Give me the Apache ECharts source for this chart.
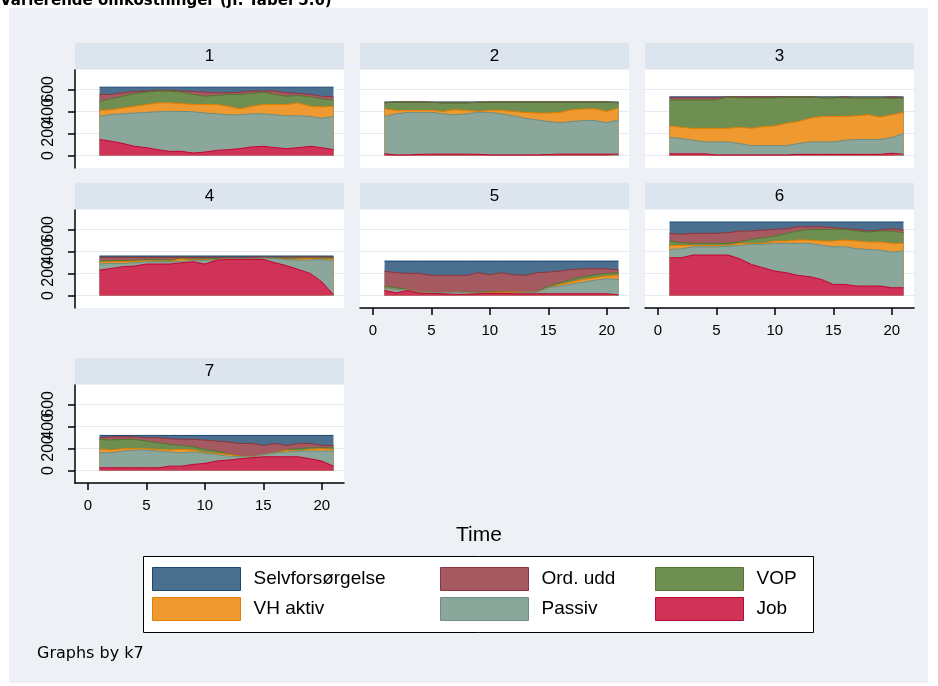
<!DOCTYPE html>
<html>
<head>
<meta charset="utf-8">
<script src="https://cdn.jsdelivr.net/npm/echarts@6/dist/echarts.min.js"></script>
<style>
html, body { margin: 0; padding: 0; background: #fff; }
#container { width: 938px; height: 686px; }
</style>
</head>
<body>
<div id="container"></div>
<script>
var time = [1, 2, 3, 4, 5, 6, 7, 8, 9, 10, 11, 12, 13, 14, 15, 16, 17, 18, 19, 20, 21];
var xTicks = [0, 5, 10, 15, 20];
var yTicks = [0, 200, 400, 600];
// the y labels overlap in the original, so they go on two stacked axes
var yLabelsA = [0, 400];
var yLabelsB = [200, 600];
var panelNames = ['1', '2', '3', '4', '5', '6', '7'];
// bottom of the stack first
var seriesNames = ['Job', 'Passiv', 'VH aktiv', 'VOP', 'Ord. udd', 'Selvforsørgelse'];

var job1 = [145, 129, 108, 83, 71, 52, 37, 37, 22, 31, 46, 52, 62, 77, 83, 71, 62, 71, 83, 71, 52];
var passiv1 = [209, 243, 270, 302, 320, 345, 363, 363, 375, 354, 332, 317, 307, 301, 295, 298, 298, 289, 271, 267, 302];
var vhAktiv1 = [55, 43, 53, 61, 71, 80, 77, 71, 65, 77, 84, 77, 53, 68, 84, 93, 102, 117, 92, 102, 92];
var vop1 = [83, 99, 107, 117, 113, 108, 108, 104, 92, 76, 83, 108, 132, 117, 113, 92, 76, 68, 86, 74, 55];
var ordUdd1 = [62, 40, 31, 18, 10, 6, 6, 10, 27, 37, 24, 15, 21, 22, 10, 31, 31, 18, 22, 24, 31];
var selv1 = [66, 66, 51, 39, 35, 29, 29, 35, 39, 45, 51, 51, 45, 35, 35, 35, 51, 57, 66, 82, 88];

var job2 = [15, 5, 5, 10, 12, 12, 12, 12, 10, 5, 5, 5, 5, 5, 8, 12, 12, 12, 12, 12, 12];
var passiv2 = [339, 373, 386, 381, 379, 366, 357, 366, 381, 386, 373, 355, 333, 318, 300, 286, 296, 305, 305, 286, 311];
var vhAktiv2 = [68, 31, 18, 18, 18, 22, 46, 31, 9, 18, 31, 40, 53, 62, 77, 93, 107, 105, 105, 102, 108];
var vop2 = [56, 77, 77, 77, 74, 78, 63, 69, 83, 77, 77, 86, 95, 101, 101, 95, 71, 64, 64, 86, 47];
var ordUdd2 = [0, 0, 0, 0, 0, 0, 0, 0, 0, 0, 0, 0, 0, 0, 0, 0, 0, 0, 0, 0, 0];
var selv2 = [8, 0, 0, 0, 3, 8, 8, 8, 3, 0, 0, 0, 0, 0, 0, 0, 0, 0, 0, 0, 8];

var job3 = [15, 15, 15, 15, 5, 5, 5, 5, 5, 5, 5, 10, 10, 10, 10, 10, 10, 10, 10, 20, 10];
var passiv3 = [148, 139, 123, 108, 118, 118, 103, 84, 84, 84, 84, 98, 113, 113, 113, 128, 135, 135, 135, 143, 190];
var vhAktiv3 = [105, 101, 108, 123, 123, 123, 147, 157, 173, 179, 203, 200, 215, 231, 231, 216, 215, 224, 203, 206, 191];
var vop3 = [236, 249, 258, 258, 258, 286, 267, 276, 260, 254, 240, 224, 194, 170, 170, 168, 164, 155, 176, 148, 133];
var ordUdd3 = [20, 20, 20, 20, 20, 0, 10, 10, 10, 10, 0, 0, 0, 0, 0, 10, 0, 0, 0, 15, 0];
var selv3 = [8, 8, 8, 8, 8, 0, 0, 0, 0, 0, 0, 0, 0, 8, 8, 0, 8, 8, 8, 0, 8];

var job4 = [230, 245, 261, 267, 285, 285, 285, 297, 306, 285, 321, 327, 327, 327, 327, 297, 270, 236, 200, 124, 5];
var passiv4 = [56, 46, 30, 30, 20, 20, 20, 14, 10, 31, 5, 6, 8, 6, 11, 39, 55, 84, 123, 201, 311];
var vhAktiv4 = [15, 15, 15, 12, 9, 6, 6, 20, 5, 5, 0, 0, 0, 0, 0, 0, 3, 10, 12, 5, 15];
var vop4 = [15, 10, 10, 12, 12, 15, 10, 5, 10, 10, 10, 5, 0, 0, 0, 5, 10, 10, 5, 10, 10];
var ordUdd4 = [30, 30, 30, 25, 20, 20, 25, 10, 15, 15, 10, 5, 8, 15, 10, 5, 10, 10, 10, 10, 5];
var selv4 = [12, 12, 12, 12, 12, 12, 12, 12, 12, 12, 12, 15, 15, 10, 10, 12, 10, 8, 8, 8, 12];

var job5 = [45, 24, 45, 20, 18, 15, 10, 10, 15, 18, 18, 15, 15, 15, 15, 15, 15, 15, 15, 15, 5];
var passiv5 = [25, 31, 5, 10, 10, 10, 20, 15, 5, 0, 0, 3, 10, 15, 55, 70, 88, 106, 124, 137, 140];
var vhAktiv5 = [0, 0, 0, 0, 0, 0, 0, 0, 0, 5, 12, 12, 3, 0, 0, 15, 18, 24, 22, 24, 37];
var vop5 = [15, 15, 5, 0, 0, 0, 0, 5, 10, 10, 0, 0, 0, 5, 15, 15, 24, 25, 27, 24, 24];
var ordUdd5 = [136, 136, 145, 170, 154, 157, 152, 152, 176, 155, 176, 158, 154, 171, 127, 106, 91, 72, 54, 42, 24];
var selv5 = [91, 106, 112, 112, 130, 130, 130, 130, 106, 124, 106, 124, 130, 106, 100, 91, 76, 70, 70, 70, 82];

var job6 = [342, 342, 367, 367, 367, 367, 333, 282, 251, 221, 206, 182, 170, 145, 100, 100, 85, 85, 85, 70, 70];
var passiv6 = [76, 82, 75, 75, 75, 81, 121, 182, 213, 252, 267, 291, 303, 309, 342, 342, 339, 333, 327, 324, 333];
var vhAktiv6 = [36, 30, 12, 12, 12, 6, 19, 8, 9, 21, 21, 30, 30, 40, 52, 61, 70, 67, 73, 79, 70];
var vop6 = [40, 25, 19, 19, 19, 19, 12, 37, 51, 45, 70, 82, 97, 106, 106, 97, 91, 91, 100, 112, 97];
var ordUdd6 = [70, 76, 91, 91, 91, 97, 100, 76, 70, 61, 42, 39, 24, 24, 15, 6, 15, 9, 9, 21, 24];
var selv6 = [103, 112, 103, 103, 103, 97, 82, 82, 73, 67, 61, 43, 43, 43, 52, 61, 67, 82, 73, 61, 73];

var job7 = [24, 24, 24, 24, 24, 24, 39, 39, 55, 64, 85, 94, 106, 115, 124, 124, 124, 124, 106, 85, 39];
var passiv7 = [137, 137, 152, 161, 161, 152, 128, 122, 112, 91, 60, 36, 18, 9, 21, 37, 43, 52, 70, 91, 137];
var vhAktiv7 = [30, 24, 21, 12, 12, 15, 18, 30, 18, 6, 10, 15, 6, 0, 0, 0, 18, 0, 15, 21, 15];
var vop7 = [91, 91, 85, 85, 70, 61, 51, 36, 30, 30, 21, 5, 0, 0, 0, 0, 6, 21, 15, 9, 15];
var ordUdd7 = [15, 30, 24, 24, 30, 45, 52, 55, 67, 85, 91, 108, 115, 121, 82, 84, 36, 48, 39, 21, 21];
var selv7 = [21, 12, 12, 12, 21, 21, 30, 36, 36, 42, 51, 60, 73, 73, 91, 73, 91, 73, 73, 91, 91];

var panels = [
    [job1, passiv1, vhAktiv1, vop1, ordUdd1, selv1],
    [job2, passiv2, vhAktiv2, vop2, ordUdd2, selv2],
    [job3, passiv3, vhAktiv3, vop3, ordUdd3, selv3],
    [job4, passiv4, vhAktiv4, vop4, ordUdd4, selv4],
    [job5, passiv5, vhAktiv5, vop5, ordUdd5, selv5],
    [job6, passiv6, vhAktiv6, vop6, ordUdd6, selv6],
    [job7, passiv7, vhAktiv7, vop7, ordUdd7, selv7]
];

var fillColors = ['#CF3357', '#8BA69A', '#EE9A30', '#6F8F52', '#A55A62', '#4B6F8F'];
var lineColors = ['#C10534', '#6E8E84', '#E37E00', '#55752F', '#90353B', '#1A476F'];

var colLeft = [75, 360, 645];
var rowTop = [70, 210, 385];
var panelW = 269, panelH = 98;
var xMin = -1.1, xMax = 21.9;
var yMin = -114, yMax = 776;
var axisFont = 'Liberation Sans';

var myChart = echarts.init(document.getElementById('container'));

var grids = [], xAxes = [], yAxes = [], extraY = [], series = [];
var graphics = [
    { type: 'rect', z: -10, shape: { x: 9, y: 8, width: 919, height: 675 }, style: { fill: '#EDF1F6' } },
    { type: 'text', x: 0, y: 9, style: { text: 'Varierende omkostninger (jf. Tabel 5.6)', font: 'bold 15px "DejaVu Sans"', fill: '#000', align: 'left', verticalAlign: 'bottom' } }
];

function yLabelStyle(values) {
    return { show: true, customValues: values, rotate: 90, margin: 18, fontSize: 16, color: '#000', fontFamily: axisFont,
        showMinLabel: true, showMaxLabel: true, hideOverlap: false };
}

panels.forEach(function (vals, p) {
    var left = colLeft[p % 3], top = rowTop[Math.floor(p / 3)];
    var showX = p >= 4, showY = p % 3 === 0;

    grids.push({ left: left, top: top, width: panelW, height: panelH, show: true, backgroundColor: '#fff', borderWidth: 0 });

    xAxes.push({
        type: 'value', gridIndex: p, min: xMin, max: xMax,
        axisLine: { show: showX, onZero: false, lineStyle: { color: '#000', width: 1.5 } },
        axisTick: { show: showX, length: 7, customValues: xTicks, lineStyle: { color: '#000', width: 1.5 } },
        axisLabel: { show: showX, customValues: xTicks, margin: 15, fontSize: 15, color: '#000', fontFamily: axisFont,
            showMinLabel: true, showMaxLabel: true, hideOverlap: false },
        splitLine: { show: false }
    });

    var yLab = yLabelStyle(yLabelsA);
    yLab.show = showY;
    yAxes.push({
        type: 'value', gridIndex: p, min: yMin, max: yMax,
        axisLine: { show: showY, onZero: false, lineStyle: { color: '#000', width: 1.5 } },
        axisTick: { show: showY, length: 7, customValues: yTicks, lineStyle: { color: '#000', width: 1.5 } },
        axisLabel: yLab,
        splitLine: { show: true, lineStyle: { color: '#E3EAF1', width: 1 } }
    });
    if (showY) {
        extraY.push({
            type: 'value', gridIndex: p, min: yMin, max: yMax, position: 'left', offset: 0,
            axisLine: { show: false, onZero: false },
            axisTick: { show: false },
            axisLabel: yLabelStyle(yLabelsB),
            splitLine: { show: false }
        });
    }

    // strip above each panel
    graphics.push({ type: 'rect', shape: { x: left, y: top - 27, width: panelW, height: 26 }, style: { fill: '#DCE4EE' } });
    graphics.push({ type: 'text', x: left + panelW / 2, y: top - 14, style: { text: panelNames[p], fontSize: 17, fontFamily: axisFont, fill: '#000', align: 'center', verticalAlign: 'middle' } });

    // running totals so each band sits on the one below; top band drawn first
    var cum = [];
    vals.forEach(function (arr, s) {
        cum.push(arr.map(function (v, i) { return v + (s > 0 ? cum[s - 1][i] : 0); }));
    });
    for (var s = vals.length - 1; s >= 0; s--) {
        series.push({
            name: seriesNames[s],
            type: 'line',
            xAxisIndex: p,
            yAxisIndex: p,
            symbol: 'none',
            silent: true,
            color: fillColors[s],
            lineStyle: { width: 1, color: lineColors[s] },
            areaStyle: { color: fillColors[s], opacity: 1 },
            data: time.map(function (t, i) { return [t, cum[s][i]]; })
        });
    }
});

graphics.push({ type: 'text', x: 479, y: 535, style: { text: 'Time', fontSize: 21, fontFamily: axisFont, fill: '#000', align: 'center', verticalAlign: 'middle' } });
graphics.push({ type: 'rect', shape: { x: 143.5, y: 556.5, width: 670, height: 76 }, style: { fill: '#fff', stroke: '#000', lineWidth: 1 } });
graphics.push({ type: 'text', x: 37, y: 654, style: { text: 'Graphs by k7', fontSize: 16, fontFamily: 'DejaVu Sans', fill: '#000', align: 'left', verticalAlign: 'middle' } });

var legendCols = [['Selvforsørgelse', 'VH aktiv'], ['Ord. udd', 'Passiv'], ['VOP', 'Job']];
var legendLeft = [152, 440, 655];
var legends = legendCols.map(function (names, c) {
    return {
        orient: 'vertical', left: legendLeft[c], top: 567, padding: 0,
        itemWidth: 88, itemHeight: 23, itemGap: 6, icon: 'rect', selectedMode: false,
        textStyle: { fontSize: 19, fontFamily: axisFont, color: '#000', padding: [0, 0, 0, 8] },
        data: names.map(function (n) {
            var k = seriesNames.indexOf(n);
            return { name: n, itemStyle: { color: fillColors[k], borderColor: lineColors[k], borderWidth: 1 } };
        })
    };
});

var option = {
    backgroundColor: '#fff',
    animation: false,
    grid: grids,
    xAxis: xAxes,
    yAxis: yAxes.concat(extraY),
    legend: legends,
    graphic: graphics,
    series: series
};
myChart.setOption(option);
</script>
</body>
</html>
